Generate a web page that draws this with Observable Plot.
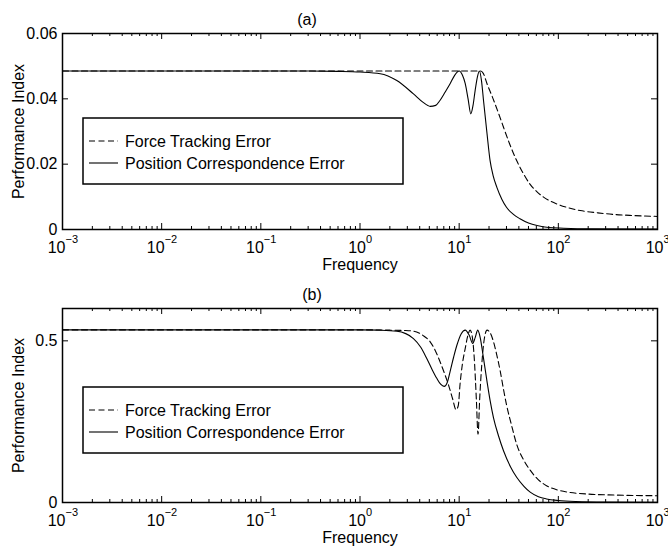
<!DOCTYPE html>
<html><head><meta charset="utf-8">
<script src="https://cdn.jsdelivr.net/npm/d3@7"></script>
<script src="https://cdn.jsdelivr.net/npm/@observablehq/plot@0.6"></script>
<style>
body{margin:0;background:#fff;font-family:"Liberation Sans",Arial,Helvetica,sans-serif}
svg{display:block}
</style>
</head><body><div id="chart"></div>
<script>
// ---------- data ----------
const seriesNames = ["Force Tracking Error", "Position Correspondence Error"];

// Panel (a)
const freqForceA = [0.001, 0.01, 0.1, 1, 5, 10, 14, 16.5, 17.5, 19.1, 22, 25, 28, 32, 38, 45, 52, 61, 71, 83, 97, 125, 166, 250, 363, 550, 1000];
const valForceA  = [0.0485, 0.0485, 0.0485, 0.0485, 0.0485, 0.0485, 0.0485, 0.0485, 0.0478, 0.0446, 0.0400, 0.0355, 0.0313, 0.0265, 0.0211, 0.0168, 0.0138, 0.0115, 0.0099, 0.0087, 0.0078, 0.0067, 0.0058, 0.0051, 0.0046, 0.0043, 0.0040];
const freqPosA = [0.001, 0.1, 0.3, 0.6, 1, 1.6, 2.35, 3.46, 4.3, 5.1, 5.8, 6.4, 7.2, 8.1, 9.0, 10, 10.8, 11.5, 12.3, 13.1, 13.8, 14.5, 15.3, 16, 16.8, 17.6, 19.1, 20.5, 22, 24, 27, 30, 35, 41, 50, 61, 80, 113, 200, 1000];
const valPosA  = [0.0485, 0.0485, 0.0485, 0.0484, 0.0482, 0.0477, 0.0456, 0.0415, 0.0390, 0.0377, 0.0380, 0.0395, 0.0420, 0.0446, 0.0472, 0.0485, 0.0472, 0.0447, 0.0400, 0.0354, 0.0380, 0.0426, 0.0468, 0.0485, 0.0455, 0.0395, 0.0293, 0.0211, 0.0165, 0.0129, 0.0092, 0.0068, 0.0047, 0.0033, 0.0020, 0.0012, 0.0006, 0.0004, 0.0002, 0.0001];

// Panel (b)
const freqForceB = [0.001, 1, 2, 2.8, 3.46, 4.3, 5.1, 5.7, 6.4, 7.1, 7.8, 8.6, 9.3, 9.8, 10.2, 10.8, 11.5, 12.2, 12.9, 13.6, 14.2, 14.9, 15.5, 16.1, 16.9, 17.9, 19.1, 20.5, 22.2, 24, 26, 28, 30, 34, 38, 45, 52, 63, 76, 100, 132, 200, 363, 1000];
const valForceB  = [0.534, 0.534, 0.533, 0.532, 0.530, 0.517, 0.497, 0.472, 0.436, 0.400, 0.364, 0.320, 0.287, 0.300, 0.365, 0.430, 0.476, 0.515, 0.533, 0.510, 0.446, 0.320, 0.211, 0.320, 0.426, 0.505, 0.533, 0.525, 0.497, 0.455, 0.405, 0.350, 0.303, 0.235, 0.180, 0.130, 0.100, 0.070, 0.052, 0.038, 0.031, 0.026, 0.023, 0.021];
const freqPosB = [0.001, 0.5, 1, 1.6, 2.35, 3.46, 4.1, 4.7, 5.3, 5.95, 6.5, 7.05, 7.6, 8.1, 8.8, 9.5, 10.5, 11.5, 12.6, 13.7, 14.5, 15.4, 16.3, 17.4, 19.1, 20.5, 22.2, 25, 28, 33, 38, 45, 52, 63, 76, 100, 150, 300, 1000];
const valPosB  = [0.534, 0.534, 0.534, 0.533, 0.530, 0.507, 0.480, 0.446, 0.413, 0.384, 0.366, 0.359, 0.372, 0.405, 0.450, 0.487, 0.522, 0.533, 0.518, 0.492, 0.510, 0.533, 0.510, 0.456, 0.374, 0.316, 0.262, 0.205, 0.160, 0.110, 0.078, 0.050, 0.032, 0.018, 0.011, 0.006, 0.003, 0.0015, 0.001];

// Axis ticks and labels
const decades = [1e-3, 1e-2, 1e-1, 1, 10, 100, 1000];
const decadeExponents = ["\u22123", "\u22122", "\u22121", "0", "1", "2", "3"];
const minorMultipliers = [2, 3, 4, 5, 6, 7, 8, 9];
const yTicksA = [0, 0.02, 0.04, 0.06];
const yLabelsA = ["0", "0.02", "0.04", "0.06"];
const yTicksB = [0, 0.5];
const yLabelsB = ["0", "0.5"];

const zip = (fs, vs) => fs.map((f, i) => ({f, v: vs[i]}));
const minorTicks = decades.slice(0, -1).flatMap(d => minorMultipliers.map(k => k * d));

const W = 668, H = 274, ML = 62, MR = 11;
const innerW = W - ML - MR;
const FONT = '"Liberation Sans", Arial, Helvetica, sans-serif';

function panel({title, titleDx, force, pos, yDomain, yTicks, yLabels, marginTop, marginBottom, legendTop}) {
  const innerH = H - marginTop - marginBottom;
  const neg = decades.map((d, i) => ({d, e: decadeExponents[i]})).filter(o => o.d < 1);
  const nonneg = decades.map((d, i) => ({d, e: decadeExponents[i]})).filter(o => o.d >= 1);
  const plot = Plot.plot({
    width: W, height: H, marginLeft: ML, marginRight: MR, marginTop, marginBottom,
    x: {type: "log", domain: [1e-3, 1e3], axis: null},
    y: {domain: yDomain, axis: null},
    style: {fontFamily: FONT, fontSize: "16px", color: "black", background: "white", overflow: "visible"},
    marks: [
      Plot.line(force, {x: "f", y: "v", stroke: "black", strokeWidth: 1.1, strokeDasharray: "6,3.5", curve: "monotone-x"}),
      Plot.line(pos, {x: "f", y: "v", stroke: "black", strokeWidth: 1.1, curve: "monotone-x"}),
      // inward ticks, bottom and top
      Plot.tickX(decades, {x: d => d, insetTop: innerH - 6, stroke: "black"}),
      Plot.tickX(decades, {x: d => d, insetBottom: innerH - 6, stroke: "black"}),
      Plot.tickX(minorTicks, {x: d => d, insetTop: innerH - 3, stroke: "black"}),
      Plot.tickX(minorTicks, {x: d => d, insetBottom: innerH - 3, stroke: "black"}),
      // inward ticks, left and right
      Plot.tickY(yTicks, {y: d => d, insetRight: innerW - 6, stroke: "black"}),
      Plot.tickY(yTicks, {y: d => d, insetLeft: innerW - 6, stroke: "black"}),
      // y tick labels
      Plot.text(yTicks, {y: d => d, text: (d, i) => yLabels[i], frameAnchor: "left", textAnchor: "end", dx: -5, fontSize: 16, fill: "black"}),
      // x tick labels 10^n
      Plot.text(neg, {x: "d", text: () => "10", frameAnchor: "bottom", lineAnchor: "bottom", textAnchor: "end", dx: 3, dy: 23, fontSize: 16, fill: "black"}),
      Plot.text(neg, {x: "d", text: "e", frameAnchor: "bottom", lineAnchor: "bottom", textAnchor: "start", dx: 3, dy: 13, fontSize: 11, fill: "black"}),
      Plot.text(nonneg, {x: "d", text: () => "10", frameAnchor: "bottom", lineAnchor: "bottom", textAnchor: "end", dx: 6, dy: 23, fontSize: 16, fill: "black"}),
      Plot.text(nonneg, {x: "d", text: "e", frameAnchor: "bottom", lineAnchor: "bottom", textAnchor: "start", dx: 6, dy: 13, fontSize: 11, fill: "black"}),
      // axis titles
      Plot.text(["Frequency"], {frameAnchor: "bottom", lineAnchor: "bottom", dy: 40, fontSize: 16, fill: "black"}),
      Plot.text(["Performance Index"], {frameAnchor: "left", textAnchor: "middle", lineAnchor: "middle", rotate: -90, dx: -44, fontSize: 16, fill: "black"}),
      Plot.text([title], {frameAnchor: "top", lineAnchor: "bottom", dx: titleDx, dy: -9, fontSize: 16, fill: "black"}),
      Plot.frame({stroke: "black", strokeWidth: 1.5})
    ]
  });

  // legend box (layout only)
  const svg = d3.select(plot);
  const g = svg.append("g").attr("font-family", FONT).attr("font-size", 16).attr("text-anchor", "start");
  g.append("rect").attr("x", 83).attr("y", legendTop).attr("width", 320).attr("height", 66)
    .attr("fill", "white").attr("stroke", "black").attr("stroke-width", 1.5);
  const rows = [{dash: "6,3.5"}, {dash: null}];
  rows.forEach((r, i) => {
    const cy = legendTop + 23 + i * 22;
    const ln = g.append("line").attr("x1", 89).attr("x2", 118).attr("y1", cy).attr("y2", cy)
      .attr("stroke", "black").attr("stroke-width", 1.1);
    if (r.dash) ln.attr("stroke-dasharray", r.dash);
    g.append("text").attr("x", 125).attr("y", cy + 6).attr("fill", "black")
      .attr("text-anchor", "start").text(seriesNames[i]);
  });
  return plot;
}

const root = document.getElementById("chart");
root.append(panel({
  title: "(a)", titleDx: -53,
  force: zip(freqForceA, valForceA), pos: zip(freqPosA, valPosA),
  yDomain: [0, 0.06], yTicks: yTicksA, yLabels: yLabelsA,
  marginTop: 33, marginBottom: 45, legendTop: 118
}));
root.append(panel({
  title: "(b)", titleDx: -48,
  force: zip(freqForceB, valForceB), pos: zip(freqPosB, valPosB),
  yDomain: [0, 0.6], yTicks: yTicksB, yLabels: yLabelsB,
  marginTop: 34, marginBottom: 46, legendTop: 113
}));
</script>
</body></html>
